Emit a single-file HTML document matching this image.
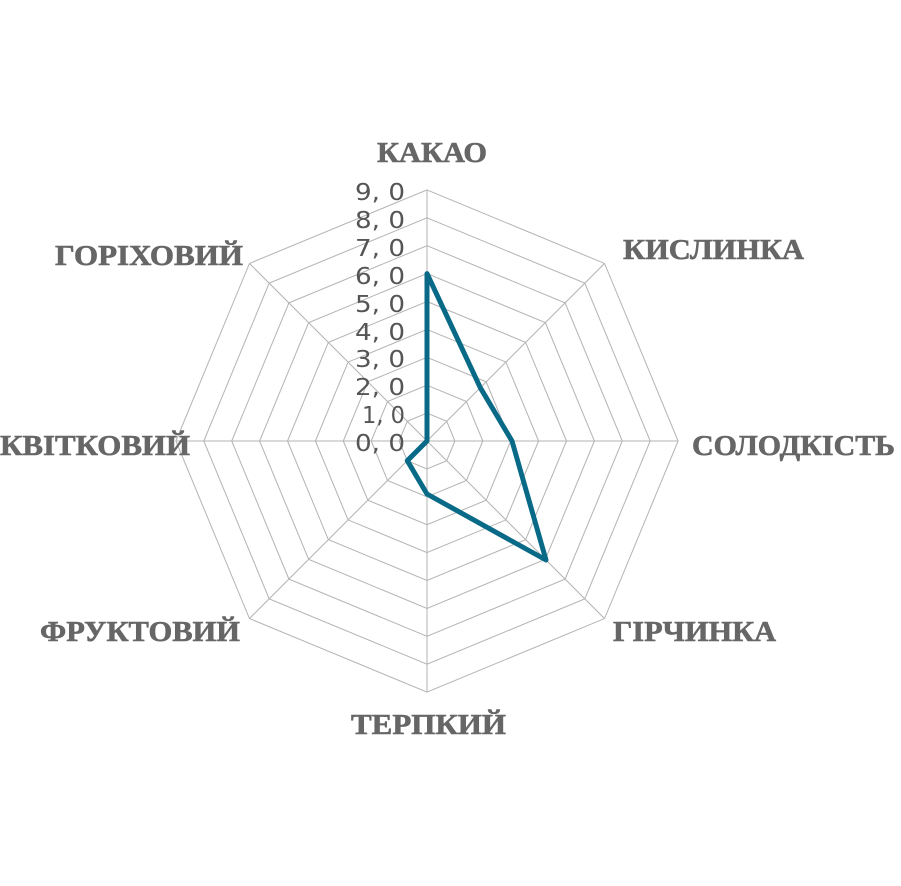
<!DOCTYPE html>
<html><head><meta charset="utf-8"><style>
html,body{margin:0;padding:0;background:#fff;}
svg{display:block;}
.l{font-family:"Liberation Serif",serif;font-weight:bold;font-size:29px;fill:#666;stroke:#666;stroke-width:0.6;}
.n{font-family:"DejaVu Sans","Liberation Sans",sans-serif;font-size:23px;fill:#555;}
</style></head><body>
<svg width="901" height="886" viewBox="0 0 901 886" xmlns="http://www.w3.org/2000/svg">
<g fill="none" stroke="#b3b3b3" stroke-width="1">
<g transform="translate(427,441)">
<polygon vector-effect="non-scaling-stroke" transform="scale(27.9)" points="0,-1 0.7071,-0.7071 1,0 0.7071,0.7071 0,1 -0.7071,0.7071 -1,0 -0.7071,-0.7071"/>
<polygon vector-effect="non-scaling-stroke" transform="scale(55.8)" points="0,-1 0.7071,-0.7071 1,0 0.7071,0.7071 0,1 -0.7071,0.7071 -1,0 -0.7071,-0.7071"/>
<polygon vector-effect="non-scaling-stroke" transform="scale(83.7)" points="0,-1 0.7071,-0.7071 1,0 0.7071,0.7071 0,1 -0.7071,0.7071 -1,0 -0.7071,-0.7071"/>
<polygon vector-effect="non-scaling-stroke" transform="scale(111.6)" points="0,-1 0.7071,-0.7071 1,0 0.7071,0.7071 0,1 -0.7071,0.7071 -1,0 -0.7071,-0.7071"/>
<polygon vector-effect="non-scaling-stroke" transform="scale(139.5)" points="0,-1 0.7071,-0.7071 1,0 0.7071,0.7071 0,1 -0.7071,0.7071 -1,0 -0.7071,-0.7071"/>
<polygon vector-effect="non-scaling-stroke" transform="scale(167.4)" points="0,-1 0.7071,-0.7071 1,0 0.7071,0.7071 0,1 -0.7071,0.7071 -1,0 -0.7071,-0.7071"/>
<polygon vector-effect="non-scaling-stroke" transform="scale(195.3)" points="0,-1 0.7071,-0.7071 1,0 0.7071,0.7071 0,1 -0.7071,0.7071 -1,0 -0.7071,-0.7071"/>
<polygon vector-effect="non-scaling-stroke" transform="scale(223.2)" points="0,-1 0.7071,-0.7071 1,0 0.7071,0.7071 0,1 -0.7071,0.7071 -1,0 -0.7071,-0.7071"/>
<polygon vector-effect="non-scaling-stroke" transform="scale(251.1)" points="0,-1 0.7071,-0.7071 1,0 0.7071,0.7071 0,1 -0.7071,0.7071 -1,0 -0.7071,-0.7071"/>
<line x1="0" y1="0" x2="0" y2="-251.1"/>
<line x1="0" y1="0" x2="177.6" y2="-177.6"/>
<line x1="0" y1="0" x2="251.1" y2="0"/>
<line x1="0" y1="0" x2="177.6" y2="177.6"/>
<line x1="0" y1="0" x2="0" y2="251.1"/>
<line x1="0" y1="0" x2="-177.6" y2="177.6"/>
<line x1="0" y1="0" x2="-251.1" y2="0"/>
<line x1="0" y1="0" x2="-177.6" y2="-177.6"/>
</g>
</g>
<polygon fill="none" stroke="#086a87" stroke-width="5" stroke-linejoin="round" points="427,273.6 480.3,387.7 512,441 546,560 427,494 407.3,460.7 427,441 427,441"/>
<g class="n">
<text x="355" y="200" textLength="50" lengthAdjust="spacingAndGlyphs">9, 0</text>
<text x="355" y="228" textLength="50" lengthAdjust="spacingAndGlyphs">8, 0</text>
<text x="355" y="256" textLength="50" lengthAdjust="spacingAndGlyphs">7, 0</text>
<text x="355" y="284" textLength="50" lengthAdjust="spacingAndGlyphs">6, 0</text>
<text x="355" y="312" textLength="50" lengthAdjust="spacingAndGlyphs">5, 0</text>
<text x="355" y="340" textLength="50" lengthAdjust="spacingAndGlyphs">4, 0</text>
<text x="355" y="367" textLength="50" lengthAdjust="spacingAndGlyphs">3, 0</text>
<text x="355" y="395" textLength="50" lengthAdjust="spacingAndGlyphs">2, 0</text>
<text x="362" y="423" textLength="43" lengthAdjust="spacingAndGlyphs">1, 0</text>
<text x="355" y="451" textLength="50" lengthAdjust="spacingAndGlyphs">0, 0</text>
</g>
<g class="l">
<text x="377" y="162" textLength="110" lengthAdjust="spacingAndGlyphs">КАКАО</text>
<text x="623" y="259" textLength="181" lengthAdjust="spacingAndGlyphs">КИСЛИНКА</text>
<text x="692" y="455" textLength="203" lengthAdjust="spacingAndGlyphs">СОЛОДКІСТЬ</text>
<text x="613" y="641" textLength="163" lengthAdjust="spacingAndGlyphs">ГІРЧИНКА</text>
<text x="351" y="734" textLength="155" lengthAdjust="spacingAndGlyphs">ТЕРПКИЙ</text>
<text x="40" y="641" textLength="200" lengthAdjust="spacingAndGlyphs">ФРУКТОВИЙ</text>
<text x="0" y="455" textLength="190" lengthAdjust="spacingAndGlyphs">КВІТКОВИЙ</text>
<text x="55" y="265" textLength="188" lengthAdjust="spacingAndGlyphs">ГОРІХОВИЙ</text>
</g>
</svg>
</body></html>
